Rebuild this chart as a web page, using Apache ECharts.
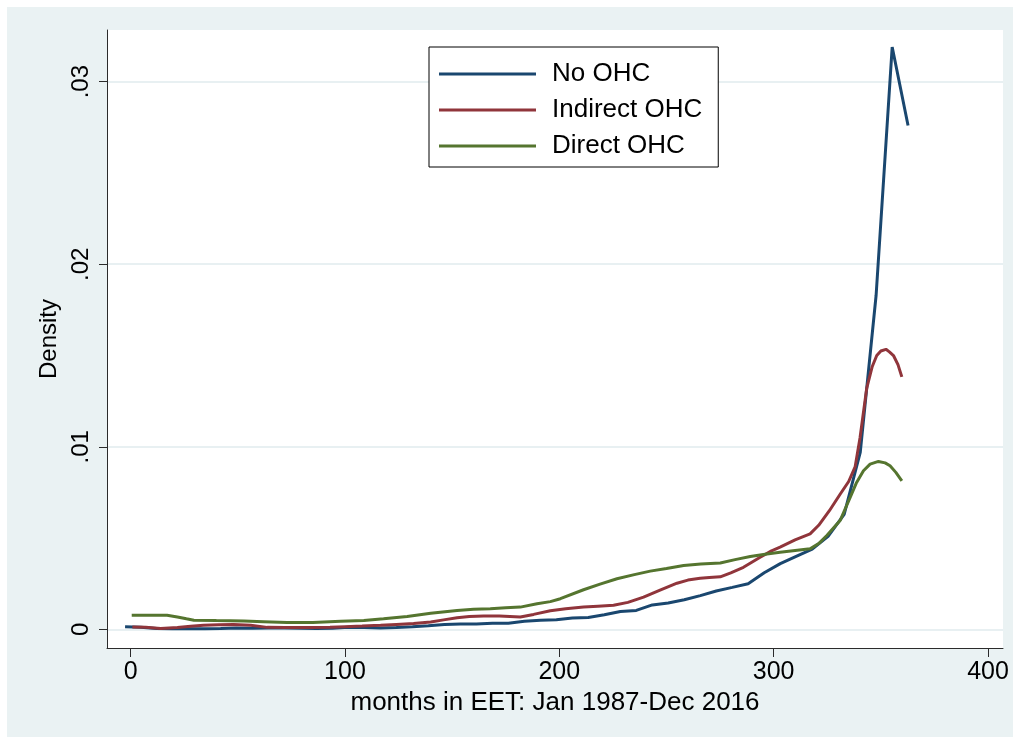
<!DOCTYPE html>
<html>
<head>
<meta charset="utf-8">
<script src="https://cdn.jsdelivr.net/npm/echarts@6/dist/echarts.min.js"></script>
<style>
  html, body { margin: 0; padding: 0; background: #fff; }
  #wrap { width: 1020px; height: 744px; box-sizing: border-box; padding: 7px; }
  #main { width: 1006px; height: 730px; }
</style>
</head>
<body>
<div id="wrap"><div id="main"></div></div>
<script>
// kernel density estimates, months since Jan 1987
const noOhcX = [-2.6, 4.7, 12.1, 19.6, 27.0, 34.5, 42.0, 49.4, 56.9, 64.3, 71.8, 79.3, 86.7, 94.2,
  101.6, 109.1, 116.6, 124.0, 131.5, 138.9, 146.4, 153.9, 161.3, 168.8, 176.2, 183.7, 191.2,
  198.6, 206.1, 213.5, 221.0, 228.5, 235.9, 243.4, 250.8, 258.3, 265.8, 273.2, 280.7, 288.1,
  295.6, 303.1, 310.5, 318.0, 325.4, 332.9, 340.4, 347.8, 355.3, 362.7]
const noOhcY = [0.00015, 0.00012, 0.00005, 0.00003, 0.00003, 0.00003, 0.00005, 0.00008, 0.00006,
  0.00007, 0.00008, 0.00006, 0.00005, 0.00006, 0.00012, 0.0001, 0.00007, 0.0001, 0.00014, 0.0002,
  0.00027, 0.0003, 0.0003, 0.00034, 0.00033, 0.00044, 0.0005, 0.00053, 0.00062, 0.00065, 0.0008,
  0.00098, 0.00104, 0.00134, 0.00145, 0.00162, 0.00185, 0.0021, 0.0023, 0.0025, 0.0031, 0.0036,
  0.004, 0.0044, 0.0051, 0.0063, 0.0097, 0.0183, 0.0319, 0.0276]

const indirectX = [0.8, 7, 14, 21.8, 28, 34, 41, 48, 56, 63.7, 72, 84, 93, 100, 108, 116.6, 124,
  132, 140, 146, 152.3, 158, 164.7, 172, 181.8, 188, 195.8, 203, 211.3, 218, 225.3, 232, 239.3,
  247, 254.9, 260, 265.7, 270, 275.1, 280, 285.9, 293.7, 299, 303, 310, 317, 321, 326, 331, 335,
  338, 340.3, 343.4, 346, 348.1, 350, 352.4, 354, 355.9, 358, 359.8]
const indirectY = [0.00013, 0.00012, 0.00005, 0.0001, 0.00017, 0.00022, 0.00026, 0.00027, 0.00022,
  0.00011, 0.0001, 0.0001, 0.00012, 0.00015, 0.00018, 0.00022, 0.00027, 0.00032, 0.0004, 0.00052,
  0.00064, 0.0007, 0.00073, 0.00073, 0.00068, 0.00082, 0.00102, 0.00113, 0.00122, 0.00127, 0.00132,
  0.00148, 0.00177, 0.00215, 0.00253, 0.0027, 0.0028, 0.00284, 0.00288, 0.0031, 0.0034, 0.00395,
  0.0043, 0.0045, 0.0049, 0.00523, 0.0057, 0.0065, 0.0074, 0.0081, 0.0089, 0.0105, 0.0132, 0.0144,
  0.015, 0.01525, 0.01534, 0.0152, 0.015, 0.0145, 0.01383]

const directX = [0.5, 8, 17, 21.8, 26, 29.5, 40, 52.8, 62, 73, 85, 98, 108.8, 118, 129, 140, 152.3,
  160, 167.8, 175, 181.8, 189.6, 195.8, 200.5, 211.3, 219, 226.9, 235, 242.4, 250, 258, 266, 275.1,
  282, 289.1, 296, 303, 310, 317, 321, 324.8, 331, 335.7, 338.5, 341.9, 345, 348.9, 352, 354.3,
  357, 359.8]
const directY = [0.00077, 0.00078, 0.00077, 0.00068, 0.00058, 0.0005, 0.00048, 0.00046, 0.00042,
  0.00037, 0.00038, 0.00044, 0.00049, 0.00058, 0.00071, 0.00088, 0.00104, 0.0011, 0.00113, 0.00118,
  0.00122, 0.0014, 0.00152, 0.00168, 0.00217, 0.00248, 0.00277, 0.003, 0.00319, 0.00334, 0.0035,
  0.00358, 0.00364, 0.00382, 0.00399, 0.00412, 0.00422, 0.00432, 0.00441, 0.0047, 0.00514, 0.00596,
  0.00723, 0.008, 0.00869, 0.00905, 0.0092, 0.00912, 0.00896, 0.0086, 0.00814]

const xTicks = [0, 100, 200, 300, 400]
const yTicks = [0, 0.01, 0.02, 0.03]

const font = "'Liberation Sans', Arial, Helvetica, sans-serif"
const axisColor = '#2b2b2b'

function zip(xs, ys) {
  return xs.map((x, i) => [x, ys[i]])
}

const myChart = echarts.init(document.getElementById('main'))

const option = {
  animation: false,
  backgroundColor: '#eaf2f3',
  textStyle: { fontFamily: font, color: '#000' },
  grid: {
    left: 100,
    top: 23,
    right: 10,
    bottom: 89,
    show: true,
    backgroundColor: '#fff',
    borderWidth: 0,
  },
  legend: {
    left: 422,
    top: 40,
    orient: 'vertical',
    icon: 'rect',
    itemWidth: 97,
    itemHeight: 3,
    itemGap: 10,
    padding: [14, 16, 8, 10],
    backgroundColor: '#fff',
    borderColor: '#000',
    borderWidth: 1,
    borderRadius: 0,
    textStyle: { fontFamily: font, fontSize: 26, color: '#000', padding: [0, 0, 0, 11] },
    data: ['No OHC', 'Indirect OHC', 'Direct OHC'],
  },
  xAxis: {
    type: 'value',
    min: -11.03,
    max: 407,
    name: 'months in EET: Jan 1987-Dec 2016',
    nameLocation: 'middle',
    nameGap: 41,
    nameTextStyle: { fontFamily: font, fontSize: 26, color: '#000' },
    axisLine: { show: true, onZero: false, lineStyle: { color: axisColor, width: 1 } },
    axisTick: { show: true, length: 9, customValues: xTicks, lineStyle: { color: axisColor } },
    axisLabel: { customValues: xTicks, fontSize: 25, color: '#000', margin: 12, fontFamily: font },
    splitLine: { show: false },
  },
  yAxis: {
    type: 'value',
    min: -0.00102,
    max: 0.03283,
    name: 'Density',
    nameLocation: 'middle',
    nameRotate: 90,
    nameGap: 45,
    nameTextStyle: { fontFamily: font, fontSize: 24, color: '#000' },
    axisLine: { show: true, onZero: false, lineStyle: { color: axisColor, width: 1 } },
    axisTick: { show: true, length: 8, customValues: yTicks, lineStyle: { color: axisColor } },
    axisLabel: {
      customValues: yTicks,
      rotate: 90,
      fontSize: 24,
      color: '#000',
      margin: 14,
      fontFamily: font,
      formatter: (v) => (v === 0 ? '0' : v.toFixed(2).replace(/^0/, '')),
    },
    splitLine: { show: true, lineStyle: { color: '#e8f0f2', width: 2 } },
  },
  series: [
    {
      name: 'No OHC',
      type: 'line',
      showSymbol: false,
      color: '#1a476f',
      lineStyle: { width: 3 },
      data: zip(noOhcX, noOhcY),
    },
    {
      name: 'Indirect OHC',
      type: 'line',
      showSymbol: false,
      color: '#90353b',
      lineStyle: { width: 3 },
      data: zip(indirectX, indirectY),
    },
    {
      name: 'Direct OHC',
      type: 'line',
      showSymbol: false,
      color: '#55752f',
      lineStyle: { width: 3 },
      data: zip(directX, directY),
    },
  ],
}

option && myChart.setOption(option)
</script>
</body>
</html>
